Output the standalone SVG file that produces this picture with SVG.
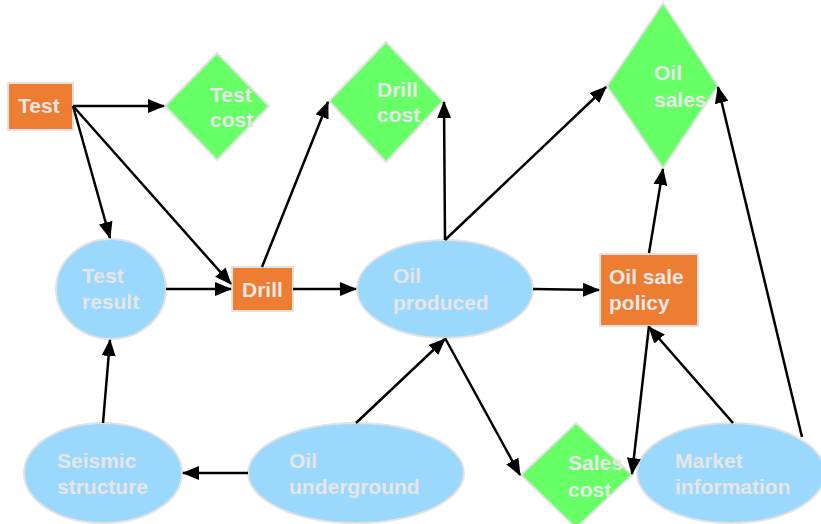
<svg xmlns="http://www.w3.org/2000/svg" width="821" height="524" viewBox="0 0 821 524">
<defs>
<marker id="ah" markerWidth="17" markerHeight="14" refX="16" refY="7" orient="auto" markerUnits="userSpaceOnUse">
<path d="M0,0 L17,7 L0,14 Z" fill="#000"/>
</marker>
<style>
.rect{fill:#ED7D31;stroke:#e2e2e2;stroke-width:2}
.dia{fill:#66FF66;stroke:#e2e2e2;stroke-width:2}
.ell{fill:#9AD8FD;stroke:#e2e2e2;stroke-width:2}
text{font-family:"Liberation Sans",Arial,sans-serif;font-weight:bold;font-size:21px;fill:#e6e6e6}
.c line{stroke:#000;stroke-width:2.5;marker-end:url(#ah)}
</style>
</defs>
<rect width="821" height="524" fill="#fff"/>
<g id="test"><rect class="rect" x="8" y="83" width="65" height="47"/><text x="18" y="113">Test</text></g>
<g id="test-cost"><polygon class="dia" points="217,53 269,106 217,160 165,106"/><text x="210" y="102">Test</text><text x="210" y="127">cost</text></g>
<g id="drill-cost"><polygon class="dia" points="386,42 443,101 386,162 329,101"/><text x="377" y="97">Drill</text><text x="377" y="122">cost</text></g>
<g id="oil-sales"><polygon class="dia" points="663,3 718,86 663,168 607,86"/><text x="654" y="80">Oil</text><text x="654" y="107">sales</text></g>
<g id="test-result"><ellipse class="ell" cx="111" cy="289" rx="55" ry="50"/><text x="82" y="283">Test</text><text x="82" y="309">result</text></g>
<g id="drill"><rect class="rect" x="232" y="267" width="61" height="44"/><text x="242" y="297">Drill</text></g>
<g id="oil-produced"><ellipse class="ell" cx="445" cy="289" rx="88" ry="49"/><text x="393" y="283">Oil</text><text x="393" y="310">produced</text></g>
<g id="oil-sale-policy"><rect class="rect" x="600" y="254" width="98" height="72"/><text x="609" y="284">Oil sale</text><text x="609" y="310">policy</text></g>
<g id="seismic-structure"><ellipse class="ell" cx="103" cy="473" rx="79" ry="50"/><text x="57" y="468">Seismic</text><text x="57" y="494">structure</text></g>
<g id="oil-underground"><ellipse class="ell" cx="356" cy="473" rx="108" ry="50"/><text x="289" y="468">Oil</text><text x="289" y="494">underground</text></g>
<g id="sales-cost"><polygon class="dia" points="576,423 632,475 576,528 521,475"/><text x="568" y="470">Sales</text><text x="568" y="497">cost</text></g>
<g id="market-information"><ellipse class="ell" cx="731" cy="473" rx="94" ry="50"/><text x="675" y="468">Market</text><text x="675" y="494">information</text></g>
<g class="c" id="connectors">
<line x1="73" y1="106" x2="164" y2="106"/>
<line x1="73" y1="106" x2="110" y2="238"/>
<line x1="73" y1="106" x2="231" y2="284"/>
<line x1="166" y1="289" x2="231" y2="289"/>
<line x1="293" y1="289" x2="356" y2="289"/>
<line x1="262" y1="267" x2="328" y2="102"/>
<line x1="445" y1="240" x2="444" y2="102"/>
<line x1="445" y1="240" x2="606" y2="87"/>
<line x1="533" y1="289" x2="599" y2="290"/>
<line x1="649" y1="253" x2="663" y2="169"/>
<line x1="802" y1="437" x2="718" y2="87"/>
<line x1="733" y1="423" x2="649" y2="327"/>
<line x1="649" y1="326" x2="632" y2="474"/>
<line x1="445" y1="338" x2="520" y2="475"/>
<line x1="356" y1="423" x2="445" y2="339"/>
<line x1="248" y1="473" x2="183" y2="473"/>
<line x1="103" y1="423" x2="110" y2="340"/>
</g>
</svg>
